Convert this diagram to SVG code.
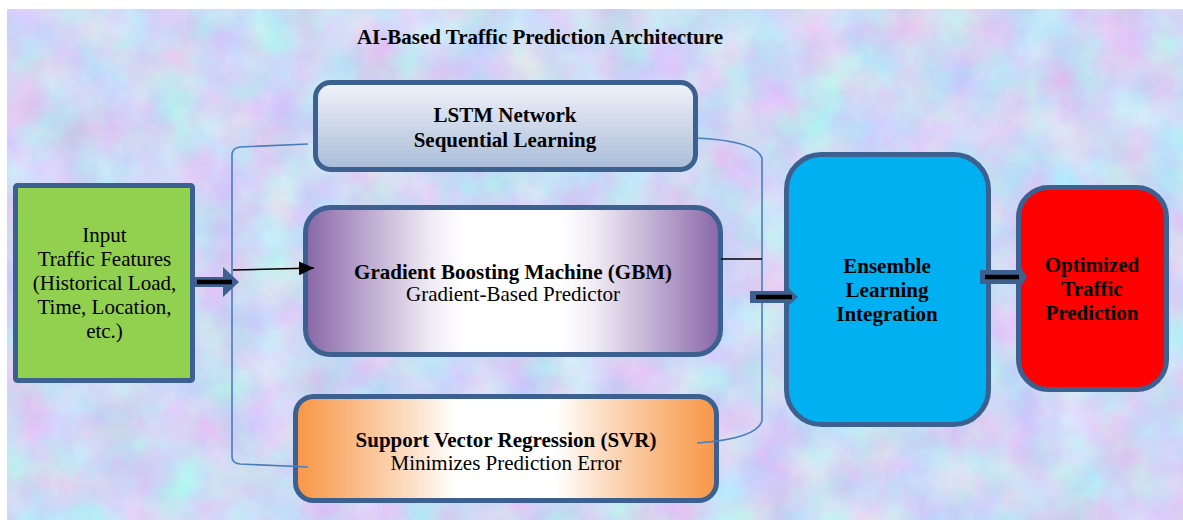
<svg xmlns="http://www.w3.org/2000/svg" width="1183" height="520" viewBox="0 0 1183 520">
  <style>
    .box { stroke: #3c6190; stroke-width: 5; }
    text { font-family: 'Liberation Serif', 'Times New Roman', Times, serif; font-size: 21px; fill: #000; text-anchor: middle; }
    .b { font-weight: bold; }
    .bracket { fill: none; stroke: #4a7ebb; stroke-width: 1.6; }
    .thin { fill: none; stroke: #000; stroke-width: 1.6; }
    .block { fill: #3c6190; }
    .core { stroke: #000; stroke-width: 4.5; }
  </style>
  <defs>
    <!-- soft mottled page texture -->
    <filter id="mottle" x="0" y="0" width="1" height="1" color-interpolation-filters="sRGB">
      <feTurbulence type="fractalNoise" baseFrequency="0.02" numOctaves="4" seed="7"/>
      <feColorMatrix type="matrix" values="0.28 -0.08 0 0 0.71  -0.06 0.26 0 0 0.75  0 0 0.1 0 0.91  0 0 0 0 1"/>
    </filter>
    <linearGradient id="gLstm" x1="0" y1="0" x2="0" y2="1">
      <stop offset="0" stop-color="#f1f3fa"/>
      <stop offset="1" stop-color="#a9bcd8"/>
    </linearGradient>
    <linearGradient id="gGbm" x1="0" y1="0" x2="1" y2="0">
      <stop offset="0" stop-color="#8866a6"/>
      <stop offset="0.12" stop-color="#b29cc8"/>
      <stop offset="0.3" stop-color="#efeaf4"/>
      <stop offset="0.38" stop-color="#ffffff"/>
      <stop offset="0.62" stop-color="#ffffff"/>
      <stop offset="0.7" stop-color="#efeaf4"/>
      <stop offset="0.88" stop-color="#b29cc8"/>
      <stop offset="1" stop-color="#8866a6"/>
    </linearGradient>
    <linearGradient id="gSvr" x1="0" y1="0" x2="1" y2="0">
      <stop offset="0" stop-color="#f79646"/>
      <stop offset="0.12" stop-color="#f9b47a"/>
      <stop offset="0.3" stop-color="#fde6d3"/>
      <stop offset="0.38" stop-color="#ffffff"/>
      <stop offset="0.62" stop-color="#ffffff"/>
      <stop offset="0.7" stop-color="#fde6d3"/>
      <stop offset="0.88" stop-color="#f9b47a"/>
      <stop offset="1" stop-color="#f79646"/>
    </linearGradient>
    <marker id="tip" markerWidth="16" markerHeight="14" refX="15" refY="7" orient="auto" markerUnits="userSpaceOnUse">
      <path d="M0,0 L15,7 L0,14 Z" fill="#000"/>
    </marker>
  </defs>

  <!-- page -->
  <rect x="0" y="0" width="1183" height="520" fill="#ffffff"/>
  <rect x="7" y="9" width="1176" height="511" fill="#d5ddf5" filter="url(#mottle)"/>

  <text class="b" x="540" y="44">AI-Based Traffic Prediction Architecture</text>

  <!-- input -->
  <g id="input">
    <rect class="box" x="15.5" y="185.5" width="177" height="195" rx="2" fill="#92d050"/>
    <text x="104.5" y="242">Input</text>
    <text x="104.5" y="266">Traffic Features</text>
    <text x="104.5" y="290">(Historical Load,</text>
    <text x="104.5" y="314">Time, Location,</text>
    <text x="104.5" y="338">etc.)</text>
  </g>

  <!-- models -->
  <g id="lstm">
    <rect class="box" x="315.5" y="82.5" width="380" height="87" rx="15" fill="url(#gLstm)"/>
    <text class="b" x="505" y="122">LSTM Network</text>
    <text class="b" x="505" y="147">Sequential Learning</text>
  </g>

  <g id="gbm">
    <rect class="box" x="305.5" y="207.5" width="415" height="147" rx="25" fill="url(#gGbm)"/>
    <text class="b" x="513" y="279">Gradient Boosting Machine (GBM)</text>
    <text x="513" y="301">Gradient-Based Predictor</text>
  </g>

  <g id="svr">
    <rect class="box" x="295.5" y="396.5" width="421" height="104" rx="18" fill="url(#gSvr)"/>
    <text class="b" x="506" y="447">Support Vector Regression (SVR)</text>
    <text x="506" y="470">Minimizes Prediction Error</text>
  </g>

  <!-- ensemble -->
  <g id="ensemble">
    <rect class="box" x="786.5" y="154.5" width="202" height="270" rx="35" fill="#00b0f0"/>
    <text class="b" x="887" y="273">Ensemble</text>
    <text class="b" x="887" y="297">Learning</text>
    <text class="b" x="887" y="321">Integration</text>
  </g>

  <!-- output -->
  <g id="output">
    <rect class="box" x="1018.5" y="187.5" width="148" height="202" rx="30" fill="#ff0000"/>
    <text class="b" x="1092" y="272">Optimized</text>
    <text class="b" x="1092" y="296">Traffic</text>
    <text class="b" x="1092" y="320">Prediction</text>
  </g>

  <!-- connectors -->
  <g id="connectors">
    <path class="bracket" d="M308,144 L240,147 Q232,148 232,155 L232,457 Q232,463 240,464 L308,467"/>
    <path class="bracket" d="M697,138 Q756,141 762,158 L762,421 Q756,439 697,443"/>
    <path class="thin" d="M233,270 L314,268" marker-end="url(#tip)"/>
    <path class="thin" d="M721,259 L762,259"/>

    <path class="block" d="M195,277 L223,277 L223,267 L239,282 L223,297 L223,287 L195,287 Z"/>
    <path class="core" d="M197,282 L232,282"/>

    <path class="block" d="M750,291 L785,291 L785,285 L798,297 L785,309 L785,303 L750,303 Z"/>
    <path class="core" d="M756,297 L792,297"/>

    <path class="block" d="M980,270 L1018,270 L1018,263 L1027,277 L1018,291 L1018,284 L980,284 Z"/>
    <path class="core" d="M985,277 L1019,277"/>
  </g>
</svg>
